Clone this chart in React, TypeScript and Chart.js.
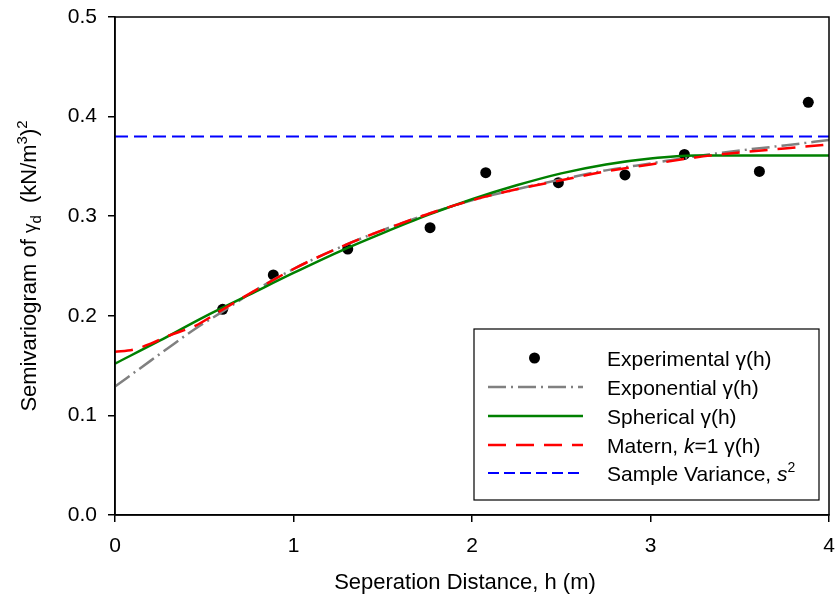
import { useEffect, useRef } from "react";
import { Chart, registerables } from "chart.js";

Chart.register(...registerables);

const FAMILY = '"Liberation Sans", Arial, Helvetica, sans-serif';
const FONT_SIZE = 21;
const TITLE_SIZE = 22;

// Experimental semivariogram (lag distance in m, semivariance in (kN/m3)^2)
const lagDistance = [0.603, 0.887, 1.304, 1.765, 2.077, 2.484, 2.857, 3.19, 3.61, 3.884];
const experimentalGamma = [0.2065, 0.241, 0.267, 0.2885, 0.3437, 0.3337, 0.3414, 0.362, 0.345, 0.4143];

// Fitted model curves
const modelDistance = [0, 0.1, 0.2, 0.3, 0.45, 0.6, 0.8, 1.0, 1.25, 1.5, 1.75, 2.0, 2.25, 2.5, 2.75, 3.0, 3.25, 3.5, 3.75, 4.0];
const exponentialGamma = [0.129, 0.142, 0.155, 0.168, 0.187, 0.204, 0.227, 0.247, 0.268, 0.286, 0.302, 0.316, 0.327, 0.337, 0.346, 0.353, 0.36, 0.366, 0.371, 0.3765];
const maternGamma = [0.164, 0.166, 0.172, 0.18, 0.19, 0.206, 0.227, 0.247, 0.268, 0.286, 0.302, 0.316, 0.327, 0.336, 0.345, 0.352, 0.359, 0.364, 0.368, 0.372];

const sphericalDistance = [0, 0.25, 0.5, 0.75, 1.0, 1.25, 1.5, 1.75, 2.0, 2.25, 2.5, 2.75, 3.0, 3.25, 3.35, 4.0];
const sphericalGamma = [0.152, 0.175, 0.199, 0.221, 0.243, 0.264, 0.283, 0.301, 0.317, 0.331, 0.343, 0.352, 0.358, 0.361, 0.361, 0.361];

const sampleVarianceRange = [0, 4];
const sampleVariance = 0.38;

const xAxis = { min: 0, max: 4, step: 1 };
const yAxis = { min: 0, max: 0.5, step: 0.1 };

const toPoints = (xs: number[], ys: number[]) => xs.map((x, i) => ({ x, y: ys[i] }));

type Run = { t: string; italic?: boolean; shift?: "sub" | "sup"; scale?: number };

function runFont(r: Run, size: number) {
  const s = Math.round(size * (r.scale ?? (r.shift ? 0.68 : 1)));
  return `${r.italic ? "italic " : ""}${s}px ${FAMILY}`;
}

function runsWidth(ctx: CanvasRenderingContext2D, runs: Run[], size: number) {
  let w = 0;
  for (const r of runs) {
    ctx.font = runFont(r, size);
    w += ctx.measureText(r.t).width;
  }
  return w;
}

function drawRuns(ctx: CanvasRenderingContext2D, runs: Run[], x: number, y: number, size: number) {
  let cx = x;
  ctx.textAlign = "left";
  ctx.textBaseline = "alphabetic";
  for (const r of runs) {
    ctx.font = runFont(r, size);
    const dy = r.shift === "sup" ? -size * 0.42 : r.shift === "sub" ? size * 0.22 : 0;
    ctx.fillText(r.t, cx, y + dy);
    cx += ctx.measureText(r.t).width;
  }
}

type LegendEntry = {
  label: Run[];
  kind: "point" | "line";
  color: string;
  dash?: number[];
  width?: number;
};

const legendEntries: LegendEntry[] = [
  { label: [{ t: "Experimental \u03b3(h)" }], kind: "point", color: "#000000" },
  { label: [{ t: "Exponential \u03b3(h)" }], kind: "line", color: "#808080", dash: [18, 5, 2, 5], width: 2.5 },
  { label: [{ t: "Spherical \u03b3(h)" }], kind: "line", color: "#008000", width: 2.5 },
  {
    label: [{ t: "Matern, " }, { t: "k", italic: true }, { t: "=1 \u03b3(h)" }],
    kind: "line",
    color: "#ff0000",
    dash: [18, 10],
    width: 2.5,
  },
  {
    label: [{ t: "Sample Variance, " }, { t: "s", italic: true }, { t: "2", shift: "sup" }],
    kind: "line",
    color: "#0000ff",
    dash: [11, 5],
    width: 2,
  },
];

const decorations = {
  id: "decorations",
  afterDraw(chart: Chart) {
    const ctx = chart.ctx;
    const a = chart.chartArea;
    ctx.save();

    // plot frame
    ctx.strokeStyle = "#000";
    ctx.lineWidth = 1.5;
    ctx.setLineDash([]);
    ctx.strokeRect(a.left, a.top, a.right - a.left, a.bottom - a.top);

    // legend box
    const bx = 474, by = 329, bw = 345, bh = 171;
    ctx.fillStyle = "#fff";
    ctx.fillRect(bx, by, bw, bh);
    ctx.strokeStyle = "#000";
    ctx.lineWidth = 1.2;
    ctx.strokeRect(bx, by, bw, bh);

    const rowY = [358, 387, 416, 445, 473];
    const sx0 = 488, sx1 = 583, tx = 607;
    legendEntries.forEach((e, i) => {
      const y = rowY[i];
      if (e.kind === "point") {
        ctx.fillStyle = e.color;
        ctx.beginPath();
        ctx.arc((sx0 + sx1) / 2 - 1, y, 5.5, 0, Math.PI * 2);
        ctx.fill();
      } else {
        ctx.strokeStyle = e.color;
        ctx.lineWidth = e.width ?? 2;
        ctx.setLineDash(e.dash ?? []);
        ctx.beginPath();
        ctx.moveTo(sx0, y);
        ctx.lineTo(sx1, y);
        ctx.stroke();
        ctx.setLineDash([]);
      }
      ctx.fillStyle = "#000";
      drawRuns(ctx, e.label, tx, y + 7.5, FONT_SIZE);
    });

    // axis titles
    ctx.fillStyle = "#000";
    const xTitle: Run[] = [{ t: "Seperation Distance, h (m)" }];
    const xw = runsWidth(ctx, xTitle, TITLE_SIZE);
    drawRuns(ctx, xTitle, 465 - xw / 2, 581 + 8, TITLE_SIZE);

    const yTitle: Run[] = [
      { t: "Semivariogram of " },
      { t: "\u03b3", scale: 0.85 },
      { t: "d", shift: "sub" },
      { t: "  (kN/m" },
      { t: "3", shift: "sup" },
      { t: ")" },
      { t: "2", shift: "sup" },
    ];
    const yw = runsWidth(ctx, yTitle, TITLE_SIZE);
    ctx.translate(28, 266);
    ctx.rotate(-Math.PI / 2);
    drawRuns(ctx, yTitle, -yw / 2, 8, TITLE_SIZE);

    ctx.restore();
  },
};

export default function App() {
  const canvasRef = useRef<HTMLCanvasElement | null>(null);

  useEffect(() => {
    const canvas = canvasRef.current;
    if (!canvas) return;

    const chart = new Chart(canvas, {
      type: "scatter",
      data: {
        datasets: [
          {
            label: "Matern, k=1",
            data: toPoints(modelDistance, maternGamma),
            showLine: true,
            borderColor: "#ff0000",
            borderWidth: 2.5,
            borderDash: [18, 10],
            pointRadius: 0,
            cubicInterpolationMode: "monotone",
            order: 1,
          },
          {
            label: "Spherical",
            data: toPoints(sphericalDistance, sphericalGamma),
            showLine: true,
            borderColor: "#008000",
            borderWidth: 2.5,
            pointRadius: 0,
            cubicInterpolationMode: "monotone",
            order: 2,
          },
          {
            label: "Exponential",
            data: toPoints(modelDistance, exponentialGamma),
            showLine: true,
            borderColor: "#808080",
            borderWidth: 2.5,
            borderDash: [18, 5, 2, 5],
            pointRadius: 0,
            cubicInterpolationMode: "monotone",
            order: 3,
          },
          {
            label: "Sample Variance",
            data: sampleVarianceRange.map((x) => ({ x, y: sampleVariance })),
            showLine: true,
            borderColor: "#0000ff",
            borderWidth: 2,
            borderDash: [13, 6],
            pointRadius: 0,
            order: 4,
          },
          {
            label: "Experimental",
            data: toPoints(lagDistance, experimentalGamma),
            showLine: false,
            backgroundColor: "#000000",
            borderWidth: 0,
            pointRadius: 5.5,
            order: 5,
          },
        ],
      },
      options: {
        responsive: false,
        animation: false,
        events: [],
        layout: { padding: { left: 0, top: 17, right: 7, bottom: 0 } },
        plugins: {
          legend: { display: false },
          tooltip: { enabled: false },
        },
        scales: {
          x: {
            type: "linear",
            min: xAxis.min,
            max: xAxis.max,
            afterFit: (scale: any) => {
              scale.height = 89;
              scale.paddingLeft = 0;
              scale.paddingRight = 0;
            },
            ticks: {
              stepSize: xAxis.step,
              color: "#000",
              padding: 12,
              font: { family: FAMILY, size: FONT_SIZE },
              callback: (v: any) => String(v),
            },
            grid: {
              drawOnChartArea: false,
              drawTicks: true,
              tickLength: 7,
              color: "#000",
              lineWidth: 1.5,
            },
            border: { display: true, color: "#000", width: 1.5 },
          },
          y: {
            type: "linear",
            min: yAxis.min,
            max: yAxis.max,
            afterFit: (scale: any) => {
              scale.width = 115;
              scale.paddingTop = 0;
              scale.paddingBottom = 0;
            },
            ticks: {
              stepSize: yAxis.step,
              color: "#000",
              padding: 11,
              font: { family: FAMILY, size: FONT_SIZE },
              callback: (v: any) => Number(v).toFixed(1),
            },
            grid: {
              drawOnChartArea: false,
              drawTicks: true,
              tickLength: 7,
              color: "#000",
              lineWidth: 1.5,
            },
            border: { display: true, color: "#000", width: 1.5 },
          },
        },
      },
      plugins: [decorations],
    });

    return () => chart.destroy();
  }, []);

  return (
    <div style={{ position: "absolute", left: 0, top: 0, width: 836, height: 604, background: "#fff" }}>
      <canvas ref={canvasRef} width={836} height={604} style={{ display: "block" }} />
    </div>
  );
}
